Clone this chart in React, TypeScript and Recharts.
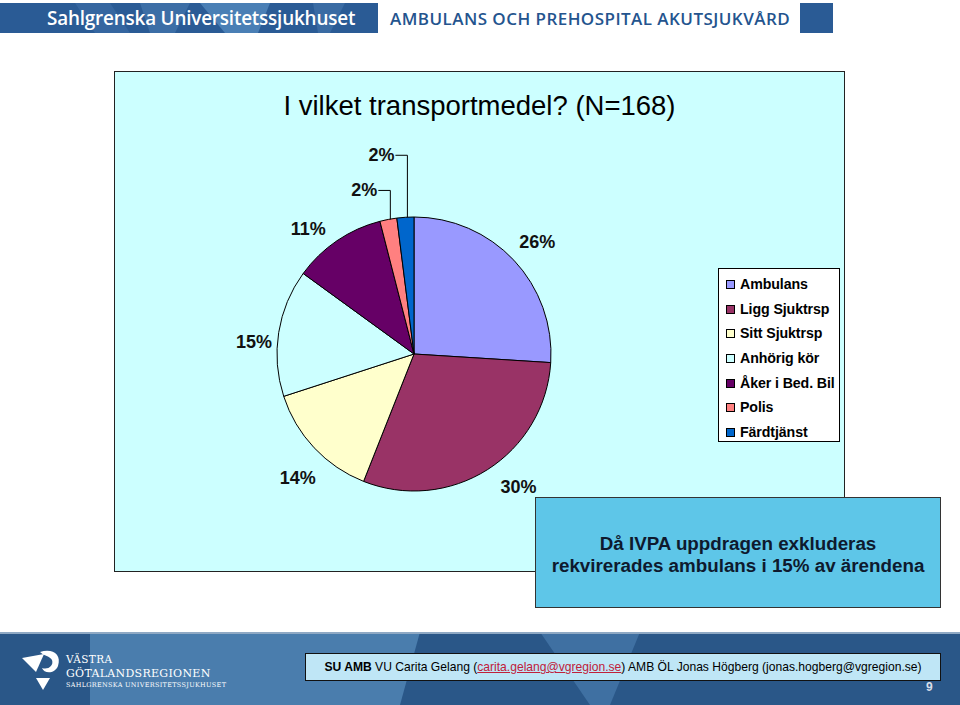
import React from 'react';
import { PieChart, Pie, Cell, Legend } from 'recharts';

const categories = ['Ambulans', 'Ligg Sjuktrsp', 'Sitt Sjuktrsp', 'Anhörig kör', 'Åker i Bed. Bil', 'Polis', 'Färdtjänst'];
const shares = [26, 30, 14, 15, 11, 2, 2];
const colors = ['#9999FF', '#993366', '#FFFFCC', '#CCFFFF', '#660066', '#FF8080', '#0066CC'];

const titleText = 'I vilket transportmedel? (N=168)';
const calloutLines = ['Då IVPA uppdragen exkluderas', 'rekvirerades ambulans i 15% av ärendena'];

const data = categories.map((name, i) => ({ name, value: shares[i] }));

const FONT = '"Liberation Sans", Arial, sans-serif';
const RAD = Math.PI / 180;

// layout: small label nudges (px) and leader-line rises for the small slices
const labelNudge: [number, number][] = [[3, 1], [16, -6], [4, 11], [3, 14], [-13, 11], [0, 0], [0, 0]];
const leaderRise: (number | null)[] = [null, null, null, null, null, 29, 62];

const renderLabel = (props: any) => {
  const { cx, cy, midAngle, outerRadius, index, value } = props;
  const cos = Math.cos(-midAngle * RAD);
  const sin = Math.sin(-midAngle * RAD);
  const text = `${value}%`;
  const rise = leaderRise[index];
  if (rise != null) {
    const ex = cx + outerRadius * cos + 2;
    const ey = cy + outerRadius * sin;
    const ty = ey - rise;
    return (
      <g key={`lbl-${index}`}>
        <polyline points={`${ex},${ey} ${ex},${ty} ${ex - 12},${ty}`} fill="none" stroke="#000" strokeWidth={1} />
        <text x={ex - 13} y={ty} textAnchor="end" dominantBaseline="central" fontFamily={FONT} fontSize={18} fontWeight="bold" fill="#111">
          {text}
        </text>
      </g>
    );
  }
  const r = outerRadius + 28;
  const [nx, ny] = labelNudge[index];
  return (
    <text key={`lbl-${index}`} x={cx + r * cos + nx} y={cy + r * sin + ny} textAnchor="middle" dominantBaseline="central" fontFamily={FONT} fontSize={18} fontWeight="bold" fill="#111">
      {text}
    </text>
  );
};

const LegendBox = () => (
  <div style={{ width: 122, height: 174, boxSizing: 'border-box', border: '1px solid #000', background: '#fff', paddingTop: 3 }}>
    {categories.map((c, i) => (
      <div key={c} style={{ height: 24.7, display: 'flex', alignItems: 'center', paddingLeft: 7 }}>
        <span style={{ width: 9, height: 9, boxSizing: 'border-box', border: '1px solid #000', background: colors[i], marginRight: 5, flex: 'none' }} />
        <span style={{ fontFamily: FONT, fontSize: 14.2, fontWeight: 'bold', color: '#000', whiteSpace: 'nowrap', lineHeight: '15px', letterSpacing: -0.1 }}>{c}</span>
      </div>
    ))}
  </div>
);

const Header = () => (
  <div style={{ position: 'absolute', left: 0, top: 0, width: 960, height: 36 }}>
    <svg width={378} height={30} style={{ position: 'absolute', left: 0, top: 3 }}>
      <rect x={0} y={0} width={378} height={30} fill="#2A5B95" />
      <polygon points="75,0 110,0 130,30 95,30" fill="#3566A0" />
      <polygon points="140,0 190,0 175,30 150,30" fill="#3C6EA6" />
      <polygon points="200,0 270,0 258,30 225,30" fill="#4A7FB5" />
      <polygon points="313,0 345,0 330,30 318,30" fill="#3A6BA3" />
    </svg>
    <div style={{ position: 'absolute', left: 47, top: 3, height: 30, display: 'flex', alignItems: 'center', fontFamily: '"Open Sans", sans-serif', fontWeight: 600, fontSize: 18.9, color: '#fff', letterSpacing: -0.2, whiteSpace: 'nowrap' }}>
      Sahlgrenska Universitetssjukhuset
    </div>
    <div style={{ position: 'absolute', left: 390, top: 3, height: 30, display: 'flex', alignItems: 'center', fontFamily: '"Open Sans", sans-serif', fontWeight: 600, fontSize: 17, color: '#24548E', letterSpacing: 0.45, whiteSpace: 'nowrap' }}>
      AMBULANS OCH PREHOSPITAL AKUTSJUKVÅRD
    </div>
    <div style={{ position: 'absolute', left: 800, top: 3, width: 33, height: 30, background: '#2A5B95' }} />
  </div>
);

const Footer = () => (
  <div style={{ position: 'absolute', left: 0, top: 632, width: 960, height: 73 }}>
    <svg width={960} height={73} style={{ position: 'absolute', left: 0, top: 0 }}>
      <rect x={0} y={0} width={960} height={73} fill="#2A5788" />
      <polygon points="90,0 420,0 400,73 90,73" fill="#4A7DAD" />
      <polygon points="540,0 640,0 610,73 590,73" fill="#3F70A2" />
      <rect x={0} y={0} width={960} height={2} fill="#8FA9C4" />
      {/* logo */}
      <polygon points="22,26 44,22 36,40" fill="#fff" />
      <path d="M40,20 C52,16 62,22 58,34 C55,42 44,42 42,36 C48,38 54,34 52,28 C50,24 44,24 40,20 Z" fill="#fff" />
      <polygon points="36,46 50,46 43,58" fill="#fff" />
    </svg>
    <div style={{ position: 'absolute', left: 66, top: 21, fontFamily: '"DejaVu Serif", serif', fontSize: 10.5, color: '#fff', lineHeight: '12px', letterSpacing: 0.4 }}>VÄSTRA</div>
    <div style={{ position: 'absolute', left: 66, top: 35, fontFamily: '"DejaVu Serif", serif', fontSize: 11, color: '#fff', lineHeight: '13px', letterSpacing: 0.3 }}>GÖTALANDSREGIONEN</div>
    <div style={{ position: 'absolute', left: 66, top: 49, fontFamily: '"DejaVu Serif", serif', fontSize: 6.5, color: '#fff', lineHeight: '8px', letterSpacing: 0.3 }}>SAHLGRENSKA UNIVERSITETSSJUKHUSET</div>
    <div style={{ position: 'absolute', left: 305, top: 21, width: 636, height: 28, boxSizing: 'border-box', border: '1.5px solid #111', background: '#BFE6F6', display: 'flex', alignItems: 'center', justifyContent: 'center', fontFamily: FONT, fontSize: 12.1, color: '#000', whiteSpace: 'nowrap' }}>
      <b>SU AMB</b>&nbsp;VU Carita Gelang (<span style={{ color: '#C0203A', textDecoration: 'underline' }}>carita.gelang@vgregion.se</span>) AMB ÖL Jonas Högberg (jonas.hogberg@vgregion.se)
    </div>
    <div style={{ position: 'absolute', left: 926, top: 48, fontFamily: FONT, fontSize: 12, fontWeight: 'bold', color: '#D8DEE8' }}>9</div>
  </div>
);

export default function App() {
  return (
    <div style={{ position: 'absolute', left: 0, top: 0, width: 960, height: 705, background: '#fff', overflow: 'hidden', fontFamily: FONT }}>
      <Header />
      <div style={{ position: 'absolute', left: 114, top: 71, width: 731, height: 501, boxSizing: 'border-box', border: '1px solid #222', background: '#CCFFFF' }}>
        <div style={{ position: 'absolute', left: 0, top: 17, width: 729, textAlign: 'center', fontFamily: FONT, fontSize: 27.5, color: '#000', lineHeight: '34px' }}>
          {titleText}
        </div>
        <div style={{ position: 'absolute', left: 0, top: 0 }}>
          <PieChart width={729} height={499} margin={{ top: 0, right: 0, bottom: 0, left: 0 }}>
            <Pie
              data={data}
              dataKey="value"
              nameKey="name"
              cx={299}
              cy={282}
              outerRadius={137}
              startAngle={90}
              endAngle={-270}
              stroke="#000"
              strokeWidth={1}
              label={renderLabel}
              labelLine={false}
              isAnimationActive={false}
            >
              {data.map((d, i) => (
                <Cell key={d.name} fill={colors[i]} />
              ))}
            </Pie>
            <Legend
              content={() => <LegendBox />}
              wrapperStyle={{ position: 'absolute', left: 603, top: 196, right: 'auto', bottom: 'auto', width: 122, height: 174 }}
            />
          </PieChart>
        </div>
      </div>
      <div style={{ position: 'absolute', left: 535, top: 497, width: 406, height: 111, boxSizing: 'border-box', border: '1.5px solid #333', background: '#5EC6E8', display: 'flex', flexDirection: 'column', alignItems: 'center', justifyContent: 'center', fontFamily: FONT, fontWeight: 'bold', fontSize: 18.8, color: '#0E1A2E', lineHeight: '22px', paddingTop: 4 }}>
        {calloutLines.map((l) => (
          <div key={l}>{l}</div>
        ))}
      </div>
      <Footer />
    </div>
  );
}
